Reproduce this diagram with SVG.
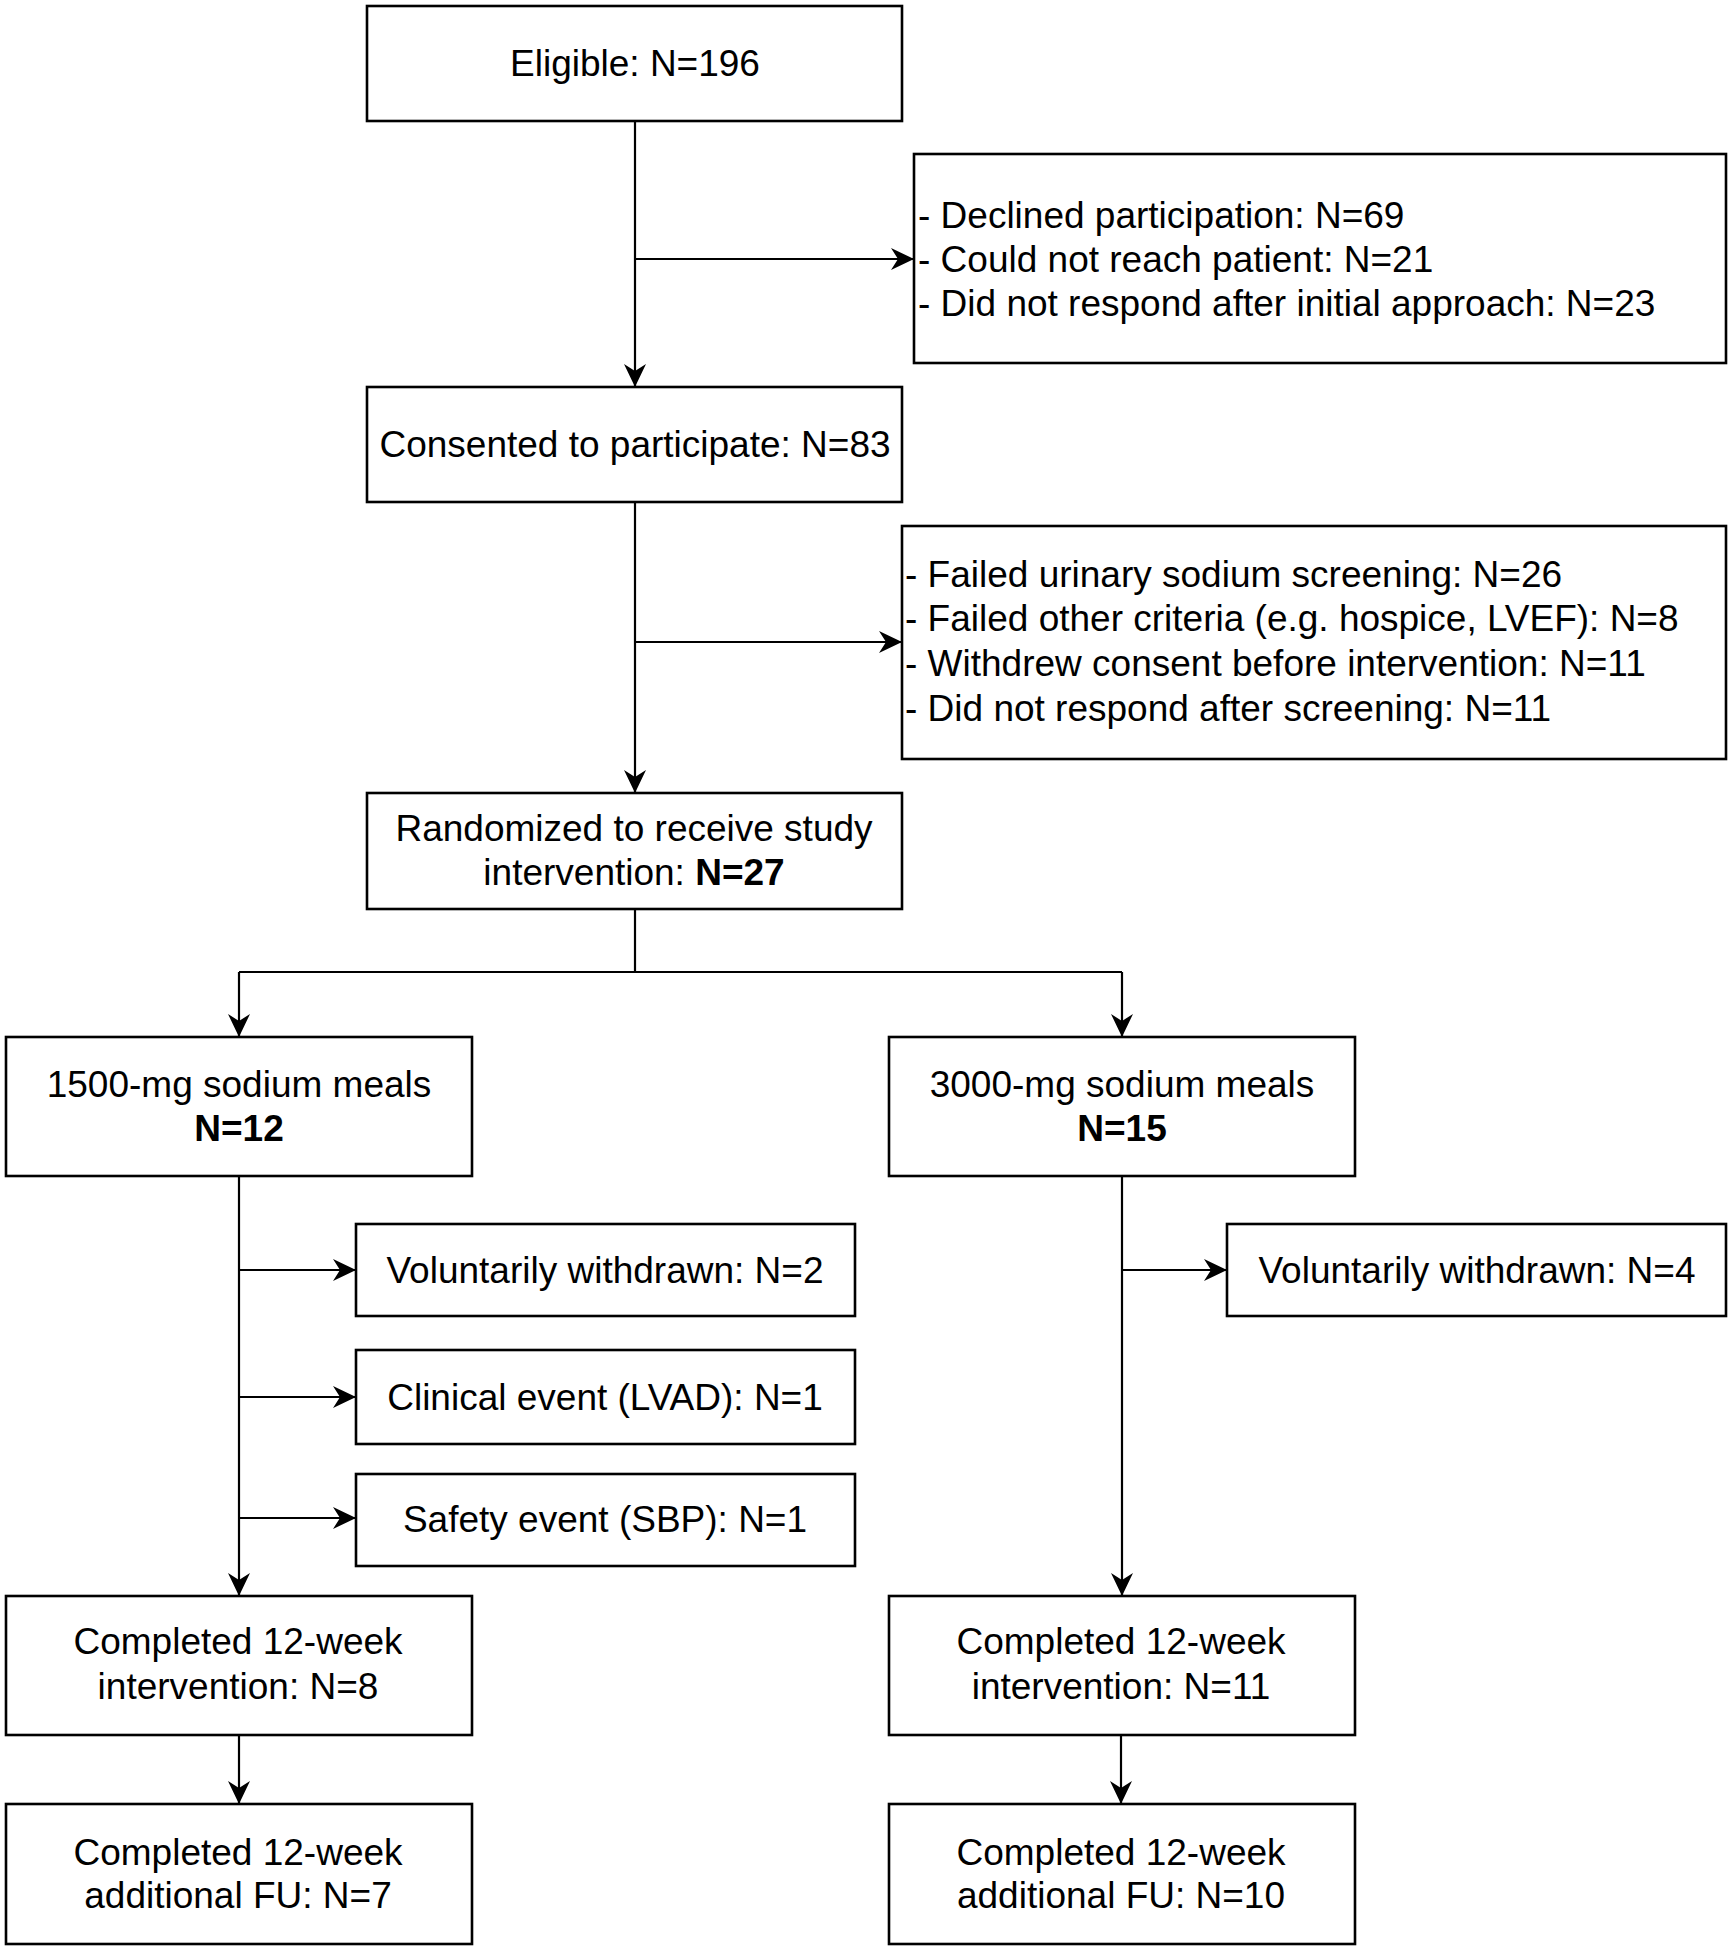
<svg xmlns="http://www.w3.org/2000/svg" width="1731" height="1950" viewBox="0 0 1731 1950">
<style>
.box{fill:#ffffff;stroke:#000000;stroke-width:2.6}
.t{font-family:"Liberation Sans",Arial,Helvetica,sans-serif;font-size:37px;fill:#000000}
.c{text-anchor:middle}
.b{font-weight:bold}
.ln{fill:none;stroke:#000000;stroke-width:2.2}
</style>
<defs>
<marker id="arr" markerUnits="userSpaceOnUse" viewBox="0 0 24 22" markerWidth="24" markerHeight="22" refX="23" refY="11" orient="auto" overflow="visible">
<path d="M0,0 L23,11 L0,22 L7,11 Z" fill="#000000"/>
</marker>
</defs>
<rect width="1731" height="1950" fill="#ffffff"/>
<g id="connectors">
<path class="ln" d="M635,121 L635,387" marker-end="url(#arr)"/>
<path class="ln" d="M635,259 L914,259" marker-end="url(#arr)"/>
<path class="ln" d="M635,502 L635,793" marker-end="url(#arr)"/>
<path class="ln" d="M635,642 L902,642" marker-end="url(#arr)"/>
<path class="ln" d="M635,909 L635,972"/>
<path class="ln" d="M239,972 L1122,972"/>
<path class="ln" d="M239,972 L239,1037" marker-end="url(#arr)"/>
<path class="ln" d="M1122,972 L1122,1037" marker-end="url(#arr)"/>
<path class="ln" d="M239,1176 L239,1596" marker-end="url(#arr)"/>
<path class="ln" d="M239,1270 L356,1270" marker-end="url(#arr)"/>
<path class="ln" d="M239,1397 L356,1397" marker-end="url(#arr)"/>
<path class="ln" d="M239,1518 L356,1518" marker-end="url(#arr)"/>
<path class="ln" d="M1122,1176 L1122,1596" marker-end="url(#arr)"/>
<path class="ln" d="M1122,1270 L1227,1270" marker-end="url(#arr)"/>
<path class="ln" d="M239,1735 L239,1804" marker-end="url(#arr)"/>
<path class="ln" d="M1121,1735 L1121,1804" marker-end="url(#arr)"/>
</g>
<g id="eligible">
<rect class="box" x="367" y="6" width="535" height="115"/>
<text class="t c" x="635" y="76">Eligible: N=196</text>
</g>
<g id="excluded1">
<rect class="box" x="914" y="154" width="812" height="209"/>
<text class="t" x="918" y="228">- Declined participation: N=69</text>
<text class="t" x="918" y="272">- Could not reach patient: N=21</text>
<text class="t" x="918" y="316">- Did not respond after initial approach: N=23</text>
</g>
<g id="consented">
<rect class="box" x="367" y="387" width="535" height="115"/>
<text class="t c" x="635" y="457">Consented to participate: N=83</text>
</g>
<g id="excluded2">
<rect class="box" x="902" y="526" width="824" height="233"/>
<text class="t" x="905" y="587">- Failed urinary sodium screening: N=26</text>
<text class="t" x="905" y="631">- Failed other criteria (e.g. hospice, LVEF): N=8</text>
<text class="t" x="905" y="676">- Withdrew consent before intervention: N=11</text>
<text class="t" x="905" y="721">- Did not respond after screening: N=11</text>
</g>
<g id="randomized">
<rect class="box" x="367" y="793" width="535" height="116"/>
<text class="t c" x="634" y="841">Randomized to receive study</text>
<text class="t c" x="634" y="885">intervention: <tspan class="b">N=27</tspan></text>
</g>
<g id="arm1500">
<rect class="box" x="6" y="1037" width="466" height="139"/>
<text class="t c" x="239" y="1097">1500-mg sodium meals</text>
<text class="t c b" x="239" y="1141">N=12</text>
</g>
<g id="arm3000">
<rect class="box" x="889" y="1037" width="466" height="139"/>
<text class="t c" x="1122" y="1097">3000-mg sodium meals</text>
<text class="t c b" x="1122" y="1141">N=15</text>
</g>
<g id="withdrawn1500">
<rect class="box" x="356" y="1224" width="499" height="92"/>
<text class="t c" x="605" y="1283">Voluntarily withdrawn: N=2</text>
</g>
<g id="clinical1500">
<rect class="box" x="356" y="1350" width="499" height="94"/>
<text class="t c" x="605" y="1410">Clinical event (LVAD): N=1</text>
</g>
<g id="safety1500">
<rect class="box" x="356" y="1474" width="499" height="92"/>
<text class="t c" x="605" y="1532">Safety event (SBP): N=1</text>
</g>
<g id="withdrawn3000">
<rect class="box" x="1227" y="1224" width="499" height="92"/>
<text class="t c" x="1477" y="1283">Voluntarily withdrawn: N=4</text>
</g>
<g id="completed1500">
<rect class="box" x="6" y="1596" width="466" height="139"/>
<text class="t c" x="238" y="1654">Completed 12-week</text>
<text class="t c" x="238" y="1699">intervention: N=8</text>
</g>
<g id="completed3000">
<rect class="box" x="889" y="1596" width="466" height="139"/>
<text class="t c" x="1121" y="1654">Completed 12-week</text>
<text class="t c" x="1121" y="1699">intervention: N=11</text>
</g>
<g id="fu1500">
<rect class="box" x="6" y="1804" width="466" height="140"/>
<text class="t c" x="238" y="1865">Completed 12-week</text>
<text class="t c" x="238" y="1908">additional FU: N=7</text>
</g>
<g id="fu3000">
<rect class="box" x="889" y="1804" width="466" height="140"/>
<text class="t c" x="1121" y="1865">Completed 12-week</text>
<text class="t c" x="1121" y="1908">additional FU: N=10</text>
</g>
</svg>
